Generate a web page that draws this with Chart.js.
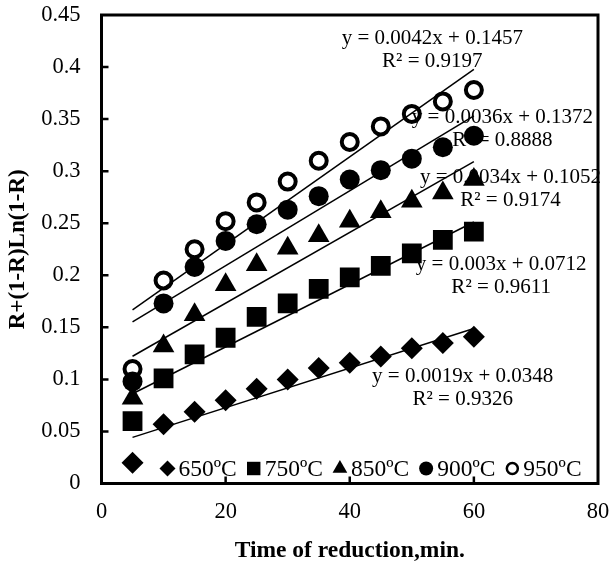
<!DOCTYPE html>
<html>
<head>
<meta charset="utf-8">
<script src="https://cdn.jsdelivr.net/npm/chart.js@4/dist/chart.umd.min.js"></script>
<style>
  body { margin: 0; background: #fff; }
</style>
</head>
<body>
<canvas id="chart" width="613" height="565"></canvas>
<script>
const times = [5, 10, 15, 20, 25, 30, 35, 40, 45, 50, 55, 60];
const temps = ['650ºC', '750ºC', '850ºC', '900ºC', '950ºC'];

const r650 = [0.020, 0.057, 0.069, 0.080, 0.091, 0.100, 0.111, 0.116, 0.122, 0.130, 0.135, 0.141];
const r750 = [0.060, 0.101, 0.124, 0.140, 0.160, 0.173, 0.187, 0.198, 0.209, 0.221, 0.234, 0.242];
const r850 = [0.082, 0.132, 0.162, 0.191, 0.210, 0.226, 0.238, 0.252, 0.261, 0.271, 0.279, 0.292];
const r900 = [0.098, 0.173, 0.208, 0.233, 0.249, 0.263, 0.276, 0.292, 0.301, 0.312, 0.323, 0.334];
const r950 = [0.110, 0.195, 0.225, 0.252, 0.270, 0.290, 0.310, 0.328, 0.343, 0.355, 0.367, 0.378];

// excel trendlines
const slopes = [0.0019, 0.003, 0.0034, 0.0036, 0.0042];
const intercepts = [0.0348, 0.0712, 0.1052, 0.1372, 0.1457];
const rSquared = ['0.9326', '0.9611', '0.9174', '0.8888', '0.9197'];

const series = [r650, r750, r850, r900, r950];
const FONT = "'Liberation Serif', 'Times New Roman', serif";

const markers = [
    { style: 'rectRot', r: 11, bg: '#000', bw: 0 },
    { style: 'rect', r: 14, bg: '#000', bw: 0 },
    { style: 'triangle', r: 12.5, bg: '#000', bw: 0 },
    { style: 'circle', r: 10, bg: '#000', bw: 0 },
    { style: 'circle', r: 8, bg: '#fff', bw: 4 }
];
const legendMarkers = [
    { style: 'rectRot', r: 8, bg: '#000', bw: 0 },
    { style: 'rect', r: 9.5, bg: '#000', bw: 0 },
    { style: 'triangle', r: 8.5, bg: '#000', bw: 0 },
    { style: 'circle', r: 7, bg: '#000', bw: 0 },
    { style: 'circle', r: 5.5, bg: '#fff', bw: 2.5 }
];
// where each equation label sits (axis units)
const labelSpots = [
    { x: 58.2, y: 0.103 },
    { x: 64.4, y: 0.210 },
    { x: 65.9, y: 0.294 },
    { x: 64.6, y: 0.352 },
    { x: 53.3, y: 0.427 }
];

const datasets = [];
series.forEach((vals, i) => {
    const x0 = times[0], x1 = times[times.length - 1];
    datasets.push({
        type: 'line',
        label: 'fit ' + temps[i],
        data: [{ x: x0, y: slopes[i] * x0 + intercepts[i] }, { x: x1, y: slopes[i] * x1 + intercepts[i] }],
        borderColor: '#000',
        borderWidth: 1.5,
        pointRadius: 0,
        fill: false
    });
});
series.forEach((vals, i) => {
    const m = markers[i];
    datasets.push({
        type: 'scatter',
        label: temps[i],
        data: vals.map((v, j) => ({ x: times[j], y: v })),
        pointStyle: m.style,
        pointRadius: m.r,
        pointBackgroundColor: m.bg,
        pointBorderColor: '#000',
        pointBorderWidth: m.bw,
        showLine: false
    });
});

const frame = {
    id: 'frame',
    beforeDraw(chart) {
        const ctx = chart.ctx;
        ctx.save();
        ctx.fillStyle = '#fff';
        ctx.fillRect(0, 0, chart.width, chart.height);
        ctx.restore();
    },
    afterDraw(chart) {
        const ctx = chart.ctx;
        const a = chart.chartArea;
        const xs = chart.scales.x, ys = chart.scales.y;
        ctx.save();
        ctx.strokeStyle = '#000';
        ctx.lineWidth = 3;
        ctx.strokeRect(a.left, a.top, a.right - a.left, a.bottom - a.top);

        // inside tick marks
        ctx.lineWidth = 2.5;
        ctx.beginPath();
        ys.ticks.forEach(t => {
            if (t.value <= 0 || t.value >= 0.45) return;
            const py = ys.getPixelForValue(t.value);
            ctx.moveTo(a.left, py);
            ctx.lineTo(a.left + 7, py);
        });
        xs.ticks.forEach(t => {
            if (t.value <= 0 || t.value >= 80) return;
            const px = xs.getPixelForValue(t.value);
            ctx.moveTo(px, a.bottom);
            ctx.lineTo(px, a.bottom - 7);
        });
        ctx.stroke();

        // equations
        ctx.fillStyle = '#000';
        ctx.font = '21px ' + FONT;
        ctx.textAlign = 'center';
        ctx.textBaseline = 'middle';
        labelSpots.forEach((s, i) => {
            const px = xs.getPixelForValue(s.x);
            const py = ys.getPixelForValue(s.y);
            ctx.fillText('y = ' + slopes[i] + 'x + ' + intercepts[i], px, py);
            ctx.fillText('R² = ' + rSquared[i], px, py + 23);
        });

        // legend inside the plot
        ctx.font = '23.5px ' + FONT;
        ctx.textAlign = 'left';
        let x = 167.5;
        const ly = a.bottom - 15;
        temps.forEach((t, i) => {
            const m = legendMarkers[i];
            ctx.fillStyle = m.bg;
            ctx.strokeStyle = '#000';
            ctx.lineWidth = m.bw;
            Chart.helpers.drawPoint(ctx, { pointStyle: m.style, radius: m.r, borderWidth: m.bw }, x, ly);
            ctx.fillStyle = '#000';
            ctx.fillText(t, x + 11, ly + 1);
            x += 11 + ctx.measureText(t).width + 17;
        });
        ctx.restore();
    }
};

new Chart(document.getElementById('chart'), {
    data: { datasets },
    options: {
        responsive: false,
        animation: false,
        layout: { padding: { left: 0, right: 15, top: 15, bottom: 0 } },
        plugins: { legend: { display: false }, tooltip: { enabled: false } },
        scales: {
            x: {
                type: 'linear',
                min: 0, max: 80,
                ticks: { stepSize: 20, padding: 15, color: '#000', font: { family: FONT, size: 22.5 } },
                grid: { drawOnChartArea: false, drawTicks: false },
                border: { display: false },
                title: { display: true, text: 'Time of reduction,min.', color: '#000', padding: { top: 0, bottom: 0 }, font: { family: FONT, size: 23.5, weight: 'bold' } },
                afterFit: s => { s.height = 81.5; s.paddingLeft = 0; s.paddingRight = 0; }
            },
            y: {
                type: 'linear',
                min: 0, max: 0.45,
                ticks: { stepSize: 0.05, padding: 21, color: '#000', font: { family: FONT, size: 22.5 }, callback: v => String(Number(v.toFixed(2))) },
                grid: { drawOnChartArea: false, drawTicks: false },
                border: { display: false },
                title: { display: true, text: 'R+(1-R)Ln(1-R)', color: '#000', padding: { top: 4, bottom: 0 }, font: { family: FONT, size: 23, weight: 'bold' } },
                afterFit: s => { s.width = 101.5; s.paddingTop = 0; s.paddingBottom = 0; }
            }
        }
    },
    plugins: [frame]
});
</script>
</body>
</html>
